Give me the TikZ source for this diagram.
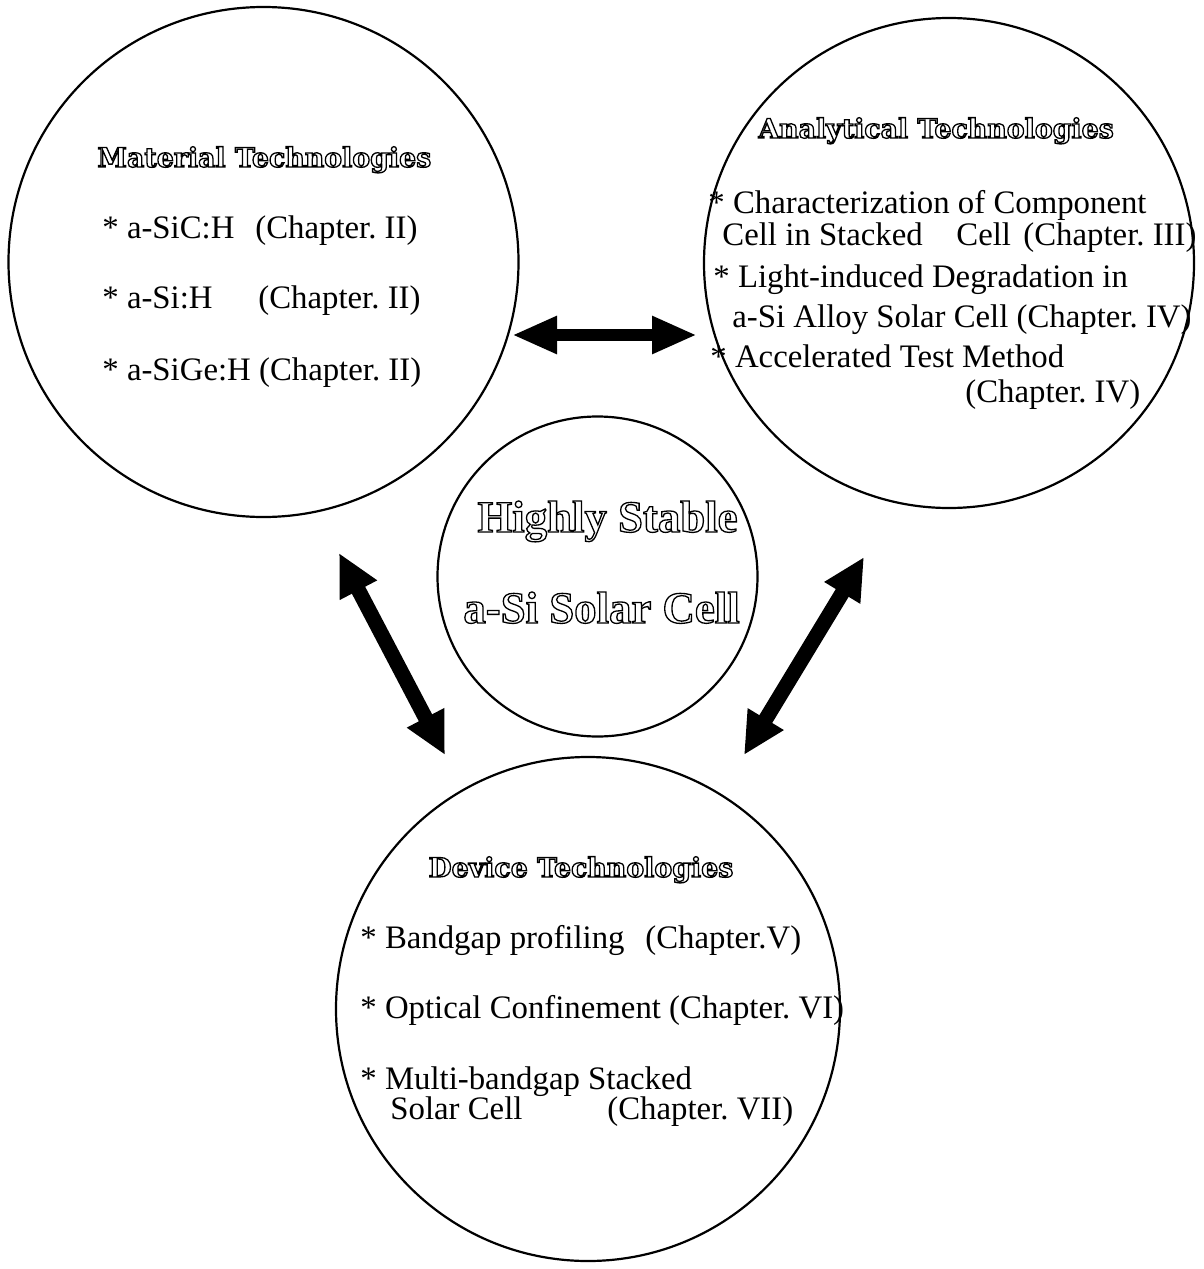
\documentclass[tikz,border=0pt]{standalone}
\usepackage{fontspec}
\setmainfont{Liberation Serif}
\newfontfamily\titlefont{DejaVu Serif}
\newfontfamily\centerfont{Liberation Serif}
\usetikzlibrary{arrows.meta}
\newcommand{\outl}[1]{\special{pdf:literal direct 2 Tr 0.65 w 1 1 1 rg 0 0 0 RG}#1\special{pdf:literal direct 0 Tr 0 0 0 rg 0 0 0 RG}}
\tikzset{
  circ/.style={draw, circle, line width=1.1pt, inner sep=0pt},
  body/.style={anchor=base west, inner sep=0pt, font=\fontsize{16.4pt}{19pt}\selectfont},
  ttl/.style={anchor=base west, inner sep=0pt, font=\titlefont\bfseries\fontsize{13.4pt}{16pt}\selectfont},
  ctr/.style={anchor=base west, inner sep=0pt, font=\centerfont\bfseries\fontsize{22.4pt}{26pt}\selectfont},
  harrow/.style={line width=6pt, {Triangle[length=22.5pt,width=17.5pt]}-{Triangle[length=22.5pt,width=17.5pt]}},
  darrow/.style={line width=7.5pt, {Triangle[length=21pt,width=19.5pt]}-{Triangle[length=21pt,width=19.5pt]}}
}
\begin{document}
\frenchspacing
\begin{tikzpicture}[x=0.5pt,y=-0.5pt]
\path[use as bounding box] (0,0) rectangle (1204,1269);
% circles
\node[circ, minimum size=255pt] (mat) at (263.5,262) {};
\node[circ, minimum size=245pt] (ana) at (949,263) {};
\node[circ, minimum size=160pt] (cen) at (597.5,576.5) {};
\node[circ, minimum size=252pt] (dev) at (588,1009) {};
% arrow end points
\coordinate (h1) at (512,335);
\coordinate (h2) at (697,335);
\coordinate (l1) at (339,553);
\coordinate (l2) at (445,755);
\coordinate (r1) at (864,557);
\coordinate (r2) at (744,755);
\draw[harrow] (h1) -- (h2);
\draw[darrow] (l1) -- (l2);
\draw[darrow] (r1) -- (r2);
% Material
\node[ttl] (matt) at (97,167) {\outl{Material Technologies}};
\node[body] (m1) at (102,238) {\makebox[76.5pt][l]{* a-SiC:H}(Chapter. II)};
\node[body] (m2) at (102,308) {\makebox[78pt][l]{* a-Si:H}(Chapter. II)};
\node[body] (m3) at (102,380) {* a-SiGe:H (Chapter. II)};
% Analytical
\node[ttl] (anat) at (758,138) {\outl{Analytical Technologies}};
\node[body] (a1) at (708,213) {* Characterization of Component};
\node[body] (a2) at (722,245) {\makebox[117pt][l]{Cell in Stacked}\makebox[33.5pt][l]{Cell}(Chapter. III)};
\node[body] (a3) at (713,287) {* Light-induced Degradation in};
\node[body] (a4) at (732,327) {a-Si Alloy Solar Cell (Chapter. IV)};
\node[body] (a5) at (710,367) {* Accelerated Test Method};
\node[body] (a6) at (965,402) {(Chapter. IV)};
% Center
\node[ctr] (c1) at (477,532) {\outl{Highly Stable}};
\node[ctr] (c2) at (463,623) {\outl{a-Si Solar Cell}};
% Device
\node[ttl] (devt) at (428,877) {\outl{Device Technologies}};
\node[body] (d1) at (360,948) {\makebox[142.5pt][l]{* Bandgap profiling}(Chapter.V)};
\node[body] (d2) at (360,1018) {* Optical Confinement (Chapter. VI)};
\node[body] (d3) at (360,1089) {* Multi-bandgap Stacked};
\node[body] (d4) at (390,1119) {\makebox[108.5pt][l]{Solar Cell}(Chapter. VII)};
\end{tikzpicture}
\end{document}
